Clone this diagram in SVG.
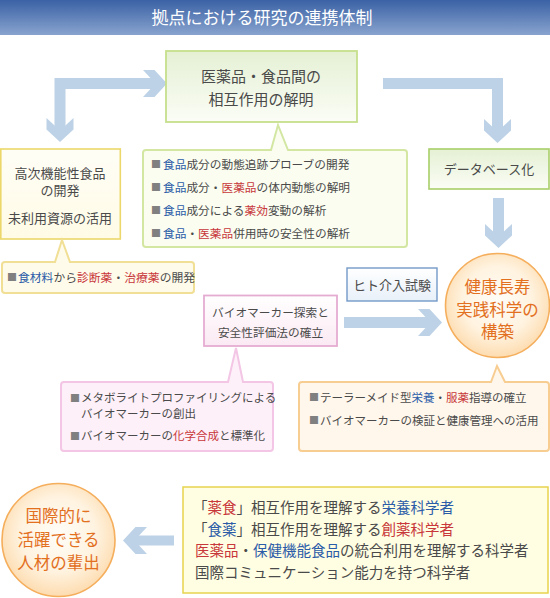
<svg xmlns="http://www.w3.org/2000/svg" width="550" height="598" viewBox="0 0 550 598">
<style>
.t{font-family:"Noto Sans CJK JP","Noto Sans",sans-serif;fill:#4a4a4a}
.b{fill:#2b5ca8}
.r{fill:#c8373a}
.o{fill:#e2701f}
.bul{font-family:"Noto Sans CJK JP",sans-serif;fill:#808080;font-size:10px}
.bar{stroke:#bdd2e7;stroke-width:11;fill:none;stroke-linejoin:miter}
.ah{fill:#bdd2e7}
</style>
<defs>
<linearGradient id="gTitle" x1="0" y1="0" x2="0" y2="1"><stop offset="0" stop-color="#3b62a5"/><stop offset="1" stop-color="#88a3ce"/></linearGradient>
<linearGradient id="gGreen" x1="0" y1="0" x2="0" y2="1"><stop offset="0" stop-color="#e5f0d4"/><stop offset="1" stop-color="#fbfdf6"/></linearGradient>
<linearGradient id="gYel" x1="0" y1="0" x2="0" y2="1"><stop offset="0" stop-color="#fffef6"/><stop offset="1" stop-color="#fffbe6"/></linearGradient>
<linearGradient id="gPink" x1="0" y1="0" x2="0" y2="1"><stop offset="0" stop-color="#ffffff"/><stop offset="1" stop-color="#fbe9f3"/></linearGradient>
<linearGradient id="gBlue" x1="0" y1="0" x2="0" y2="1"><stop offset="0" stop-color="#ffffff"/><stop offset="1" stop-color="#e8f0f9"/></linearGradient>
<radialGradient id="gOr" cx="0.5" cy="0.45" r="0.55"><stop offset="0" stop-color="#fffdf8"/><stop offset="0.6" stop-color="#fff3e0"/><stop offset="1" stop-color="#fddcb0"/></radialGradient>
<polygon id="ah" class="ah" points="-24,-13.5 -12.5,-13.5 0,0 -12.5,13.5 -24,13.5 -11.5,0"/>
</defs>

<g id="title">
<rect x="0" y="0" width="550" height="35" fill="url(#gTitle)"/>
<text class="t" x="262" y="24" font-size="17" text-anchor="middle" style="fill:#ffffff">拠点における研究の連携体制</text>
</g>

<g id="connectors">
<polyline class="bar" points="157,83.5 60,83.5 60,132"/>
<use href="#ah" transform="translate(167,83.5)"/>
<use href="#ah" transform="translate(60,142) rotate(90)"/>
<polyline class="bar" points="383,83.5 497.5,83.5 497.5,133"/>
<use href="#ah" transform="translate(497.5,143) rotate(90)"/>
<line class="bar" x1="498.5" y1="198" x2="498.5" y2="238"/>
<use href="#ah" transform="translate(498.5,248) rotate(90)"/>
<line class="bar" x1="344" y1="322.5" x2="432" y2="322.5"/>
<use href="#ah" transform="translate(442,322.5)"/>
<line class="bar" x1="174" y1="540.5" x2="133" y2="540.5" style="stroke-width:10"/>
<use href="#ah" transform="translate(123,540.5) rotate(180)"/>
</g>

<g id="center">
<rect x="166" y="51" width="191" height="71" fill="url(#gGreen)" stroke="#c6df8c" stroke-width="1.8"/>
<text class="t" x="261" y="81.5" font-size="15" text-anchor="middle">医薬品・食品間の</text>
<text class="t" x="261" y="104.5" font-size="15" text-anchor="middle">相互作用の解明</text>
</g>

<g id="green-callout">
<path d="M146,150 H271 L278,125 L288,150 H404 Q407,150 407,153 V244 Q407,247 404,247 H146 Q143,247 143,244 V153 Q143,150 146,150 Z" fill="#fafdf0" stroke="#d3e7a3" stroke-width="2"/>
<text class="bul" x="151" y="168">■</text>
<text class="t" x="163" y="168.5" font-size="11.7"><tspan class="b">食品</tspan>成分の動態追跡プローブの開発</text>
<text class="bul" x="151" y="191">■</text>
<text class="t" x="163" y="191.5" font-size="11.7"><tspan class="b">食品</tspan>成分・<tspan class="r">医薬品</tspan>の体内動態の解明</text>
<text class="bul" x="151" y="214">■</text>
<text class="t" x="163" y="214.5" font-size="11.7"><tspan class="b">食品</tspan>成分による<tspan class="r">薬効</tspan>変動の解析</text>
<text class="bul" x="151" y="237">■</text>
<text class="t" x="163" y="237.5" font-size="11.7"><tspan class="b">食品</tspan>・<tspan class="r">医薬品</tspan>併用時の安全性の解析</text>
</g>

<g id="left-box">
<rect x="0.8" y="149" width="119.5" height="90" fill="url(#gYel)" stroke="#ecd86a" stroke-width="1.6"/>
<text class="t" x="60" y="177.5" font-size="13" text-anchor="middle">高次機能性食品</text>
<text class="t" x="60" y="195" font-size="13" text-anchor="middle">の開発</text>
<text class="t" x="60" y="222.5" font-size="13" text-anchor="middle">未利用資源の活用</text>
</g>

<g id="yellow-callout">
<path d="M5,262 H55 L62,240 L70,262 H191 Q194,262 194,265 V290 Q194,293 191,293 H5 Q2,293 2,290 V265 Q2,262 5,262 Z" fill="#fffbea" stroke="#f0df95" stroke-width="2"/>
<text class="bul" x="7" y="281">■</text>
<text class="t" x="18" y="281.5" font-size="11.8"><tspan class="b">食材料</tspan>から<tspan class="r">診断薬</tspan>・<tspan class="r">治療薬</tspan>の開発</text>
</g>

<g id="database">
<rect x="429" y="149" width="120" height="40" fill="url(#gGreen)" stroke="#a9cf69" stroke-width="1.6"/>
<text class="t" x="489" y="173.5" font-size="13" text-anchor="middle">データベース化</text>
</g>

<g id="human-trial">
<rect x="347" y="268" width="90" height="33" fill="url(#gBlue)" stroke="#7399c8" stroke-width="1.4"/>
<text class="t" x="392" y="290" font-size="13" text-anchor="middle">ヒト介入試験</text>
</g>

<g id="biomarker">
<rect x="204" y="295.5" width="133" height="50.5" fill="url(#gPink)" stroke="#e5acd2" stroke-width="1.8"/>
<text class="t" x="270.5" y="316.5" font-size="11.7" text-anchor="middle">バイオマーカー探索と</text>
<text class="t" x="270.5" y="336.5" font-size="11.7" text-anchor="middle">安全性評価法の確立</text>
</g>

<g id="pink-callout">
<path d="M64,382 H228 L236,348 L243,382 H270 Q273,382 273,385 V448 Q273,451 270,451 H64 Q61,451 61,448 V385 Q61,382 64,382 Z" fill="#fdf0f8" stroke="#f3c6e6" stroke-width="2"/>
<text class="bul" x="70" y="401.5">■</text>
<text class="t" x="81" y="402" font-size="11.5">メタボライトプロファイリングによる</text>
<text class="t" x="81" y="417.5" font-size="11.5">バイオマーカーの創出</text>
<text class="bul" x="70" y="439.5">■</text>
<text class="t" x="81" y="440" font-size="11.5">バイオマーカーの<tspan class="r">化学合成</tspan>と標準化</text>
</g>

<g id="health-circle">
<circle cx="497.5" cy="305.5" r="52" fill="url(#gOr)" stroke="#f5ae5c" stroke-width="1.6"/>
<text class="t o" x="497.5" y="293" font-size="16.5" text-anchor="middle">健康長寿</text>
<text class="t o" x="497.5" y="315.5" font-size="16.5" text-anchor="middle">実践科学の</text>
<text class="t o" x="497.5" y="338" font-size="16.5" text-anchor="middle">構築</text>
</g>

<g id="orange-callout">
<path d="M302,382 H491 L497,366 L505,382 H546 Q549,382 549,385 V448 Q549,451 546,451 H302 Q299,451 299,448 V385 Q299,382 302,382 Z" fill="#fff7ec" stroke="#f8cd92" stroke-width="2"/>
<text class="bul" x="309" y="401">■</text>
<text class="t" x="320" y="401.5" font-size="11.5">テーラーメイド型<tspan class="b">栄養</tspan>・<tspan class="r">服薬</tspan>指導の確立</text>
<text class="bul" x="309" y="424">■</text>
<text class="t" x="320" y="424.5" font-size="11.5">バイオマーカーの検証と健康管理への活用</text>
</g>

<g id="people-circle">
<circle cx="58.5" cy="540" r="56.5" fill="url(#gOr)" stroke="#f5ae5c" stroke-width="1.6"/>
<text class="t o" x="58.5" y="522" font-size="16.5" text-anchor="middle">国際的に</text>
<text class="t o" x="58.5" y="546" font-size="16.5" text-anchor="middle">活躍できる</text>
<text class="t o" x="58.5" y="568.5" font-size="16.5" text-anchor="middle">人材の輩出</text>
</g>

<g id="scientists">
<rect x="183" y="487" width="365" height="106" fill="#fffde2" stroke="#e9d44e" stroke-width="1.5"/>
<text class="t" x="193" y="512.5" font-size="14.5">「<tspan class="r">薬食</tspan>」相互作用を理解する<tspan class="b">栄養科学者</tspan></text>
<text class="t" x="193" y="535" font-size="14.5">「<tspan class="b">食薬</tspan>」相互作用を理解する<tspan class="r">創薬科学者</tspan></text>
<text class="t" x="195" y="556" font-size="14.5"><tspan class="r">医薬品</tspan>・<tspan class="b">保健機能食品</tspan>の統合利用を理解する科学者</text>
<text class="t" x="195" y="578" font-size="14.5">国際コミュニケーション能力を持つ科学者</text>
</g>
</svg>
